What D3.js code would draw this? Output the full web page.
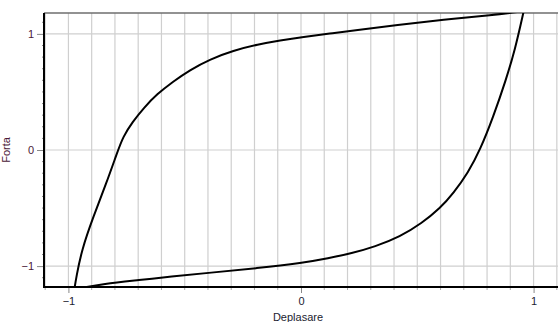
<!DOCTYPE html>
<html>
<head>
<meta charset="utf-8">
<script src="https://cdn.jsdelivr.net/npm/d3@7"></script>
<style>
  html, body { margin: 0; padding: 0; background: #fff; }
  svg { display: block; }
</style>
</head>
<body>
<svg id="chart" width="558" height="322"></svg>
<script>
// Hysteresis loop: force vs. displacement (both branches sorted by displacement)
const upperBranch = [
  [-0.975, -1.206], [-0.966, -1.094], [-0.943, -0.861], [-0.893, -0.575],
  [-0.837, -0.287], [-0.790, -0.020], [-0.765, 0.115], [-0.725, 0.240],
  [-0.675, 0.365], [-0.620, 0.480], [-0.550, 0.590], [-0.477, 0.690],
  [-0.391, 0.782], [-0.292, 0.856], [-0.185, 0.910], [-0.090, 0.944],
  [0.009, 0.974], [0.125, 1.003], [0.232, 1.030], [0.413, 1.076],
  [0.611, 1.122], [0.826, 1.163], [0.950, 1.193]
];
const lowerBranch = [
  [-0.959, -1.193], [-0.850, -1.154], [-0.692, -1.120], [-0.563, -1.090],
  [-0.391, -1.057], [-0.190, -1.019], [0.010, -0.971], [0.116, -0.932],
  [0.218, -0.890], [0.318, -0.833], [0.426, -0.747], [0.519, -0.631],
  [0.598, -0.502], [0.655, -0.373], [0.719, -0.194], [0.770, 0.000],
  [0.827, 0.287], [0.881, 0.603], [0.920, 0.861], [0.958, 1.200]
];
const yMajorTicks = [-1, 0, 1];
const xMajorTicks = [-1, 0, 1];
const xGridTicks = d3.range(-11, 12).map(i => i / 10);
const yMinorTicks = d3.range(-11, 12).map(i => i / 10);
const xLabel = "Deplasare";
const yLabel = "Forta";

const svg = d3.select("#chart");
const plotLeft = 44, plotRight = 558, plotTop = 13, plotBottom = 287;
const font = "Liberation Sans, Arial, sans-serif";

const x = d3.scaleLinear().domain([-1.105, 1.105]).range([plotLeft, plotRight]);
const y = d3.scaleLinear().domain([-1.18, 1.18]).range([plotBottom, plotTop]);

svg.append("defs").append("clipPath").attr("id", "plotClip")
  .append("rect").attr("x", plotLeft).attr("y", plotTop)
  .attr("width", plotRight - plotLeft).attr("height", plotBottom - plotTop);

// vertical grid every 0.1
svg.append("g").selectAll("line").data(xGridTicks).join("line")
  .attr("x1", d => x(d)).attr("x2", d => x(d))
  .attr("y1", plotTop).attr("y2", plotBottom)
  .attr("stroke", "#cfcfcf").attr("stroke-width", 1.2);

// horizontal grid at major ticks
svg.append("g").selectAll("line").data(yMajorTicks).join("line")
  .attr("x1", plotLeft).attr("x2", plotRight)
  .attr("y1", d => y(d)).attr("y2", d => y(d))
  .attr("stroke", "#cfcfcf").attr("stroke-width", 1.2);

// top frame
svg.append("line").attr("x1", plotLeft).attr("x2", plotRight)
  .attr("y1", plotTop).attr("y2", plotTop)
  .attr("stroke", "#6e6e6e").attr("stroke-width", 1.5);

// loop, smoothed with a B-spline through the sampled points
const line = d3.line().x(d => x(d[0])).y(d => y(d[1])).curve(d3.curveBasis);
const curves = svg.append("g").attr("clip-path", "url(#plotClip)");
[upperBranch, lowerBranch].forEach(b => {
  curves.append("path").attr("d", line(b))
    .attr("fill", "none").attr("stroke", "#000").attr("stroke-width", 2)
    .attr("stroke-linejoin", "round");
});

// y axis
const yAxis = svg.append("g").attr("transform", `translate(${plotLeft},0)`)
  .call(d3.axisLeft(y).tickValues(yMajorTicks).tickSize(7).tickPadding(3).tickFormat(d3.format("d")));
yAxis.select(".domain").remove();
yAxis.selectAll(".tick line").attr("stroke", "#888");
yAxis.selectAll("text").attr("fill", "#4a1838")
  .style("font-family", font).style("font-size", "11px");
svg.append("g").selectAll("line").data(yMinorTicks.filter(v => !yMajorTicks.includes(v))).join("line")
  .attr("x1", plotLeft - 2).attr("x2", plotLeft)
  .attr("y1", d => y(d)).attr("y2", d => y(d))
  .attr("stroke", "#888").attr("stroke-width", 1);

// x axis
const xAxis = svg.append("g").attr("transform", `translate(0,${plotBottom})`)
  .call(d3.axisBottom(x).tickValues(xMajorTicks).tickSize(6).tickPadding(4).tickFormat(d3.format("d")));
xAxis.select(".domain").remove();
xAxis.selectAll(".tick line").attr("stroke", "#888");
xAxis.selectAll("text").attr("fill", "#1c1c30")
  .style("font-family", font).style("font-size", "11px");
svg.append("g").selectAll("line").data(xGridTicks.filter(v => !xMajorTicks.includes(v))).join("line")
  .attr("x1", d => x(d)).attr("x2", d => x(d))
  .attr("y1", plotBottom).attr("y2", plotBottom + 3)
  .attr("stroke", "#aaa").attr("stroke-width", 1);

// axis lines
svg.append("line").attr("x1", plotLeft).attr("x2", plotLeft).attr("y1", plotTop).attr("y2", plotBottom + 1)
  .attr("stroke", "#000").attr("stroke-width", 2);
svg.append("line").attr("x1", plotLeft - 1).attr("x2", plotRight).attr("y1", plotBottom).attr("y2", plotBottom)
  .attr("stroke", "#000").attr("stroke-width", 2);

// axis titles
svg.append("text").attr("x", (plotLeft + plotRight) / 2 - 3).attr("y", 321)
  .attr("text-anchor", "middle").attr("fill", "#1c1c30")
  .style("font-family", font).style("font-size", "11px")
  .text(xLabel);
svg.append("text").attr("transform", `translate(10,${y(0)}) rotate(-90)`)
  .attr("text-anchor", "middle").attr("fill", "#4a1838")
  .style("font-family", font).style("font-size", "11px")
  .text(yLabel);
</script>
</body>
</html>
